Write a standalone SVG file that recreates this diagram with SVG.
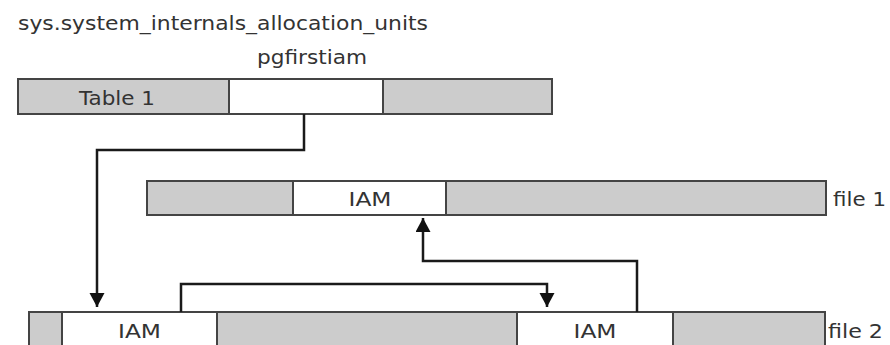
<svg xmlns="http://www.w3.org/2000/svg" width="890" height="345" viewBox="0 0 890 345">
  <style>
    text { font-family: "DejaVu Sans", Verdana, sans-serif; font-size: 20px; fill: #333333; }
    .g { fill: #cccccc; stroke: #444444; stroke-width: 2; }
    .w { fill: #ffffff; stroke: #444444; stroke-width: 2; }
    .c { fill: none; stroke: #1a1a1a; stroke-width: 2.5; }
    .mid { text-anchor: middle; }
  </style>
  <defs>
    <marker id="ah" markerUnits="userSpaceOnUse" markerWidth="16" markerHeight="16" refX="14" refY="7.5" orient="auto" viewBox="0 0 16 16">
      <path d="M0,0 L14,7.5 L0,15 z" fill="#111111"/>
    </marker>
  </defs>

  <text id="title" x="18" y="30" textLength="410" lengthAdjust="spacingAndGlyphs">sys.system_internals_allocation_units</text>

  <g id="table1">
    <rect class="g" x="18" y="79" width="211" height="35"/>
    <rect class="w" x="229" y="79" width="154" height="35"/>
    <rect class="g" x="383" y="79" width="169" height="35"/>
    <text x="79" y="105" textLength="76" lengthAdjust="spacingAndGlyphs">Table 1</text>
    <text class="mid" x="312" y="64" textLength="110" lengthAdjust="spacingAndGlyphs">pgfirstiam</text>
  </g>

  <g id="file1">
    <rect class="g" x="147" y="181" width="146" height="34"/>
    <rect class="w" x="293" y="181" width="153" height="34"/>
    <rect class="g" x="446" y="181" width="380" height="34"/>
    <text class="mid" x="370" y="206" textLength="43" lengthAdjust="spacingAndGlyphs">IAM</text>
    <text x="833" y="206" textLength="53" lengthAdjust="spacingAndGlyphs">file 1</text>
  </g>

  <g id="file2">
    <rect class="g" x="29" y="312" width="33" height="40"/>
    <rect class="w" x="62" y="312" width="155" height="40"/>
    <rect class="g" x="217" y="312" width="300" height="40"/>
    <rect class="w" x="517" y="312" width="156" height="40"/>
    <rect class="g" x="673" y="312" width="152" height="40"/>
    <text class="mid" x="139.5" y="338" textLength="43" lengthAdjust="spacingAndGlyphs">IAM</text>
    <text class="mid" x="595" y="338" textLength="43" lengthAdjust="spacingAndGlyphs">IAM</text>
    <text x="828" y="338" textLength="55" lengthAdjust="spacingAndGlyphs">file 2</text>
  </g>

  <g id="connectors">
    <path class="c" d="M304,114 V150 H97 V307" marker-end="url(#ah)"/>
    <path class="c" d="M181,312 V284 H547 V307" marker-end="url(#ah)"/>
    <path class="c" d="M637,312 V261 H423 V218" marker-end="url(#ah)"/>
  </g>
</svg>
